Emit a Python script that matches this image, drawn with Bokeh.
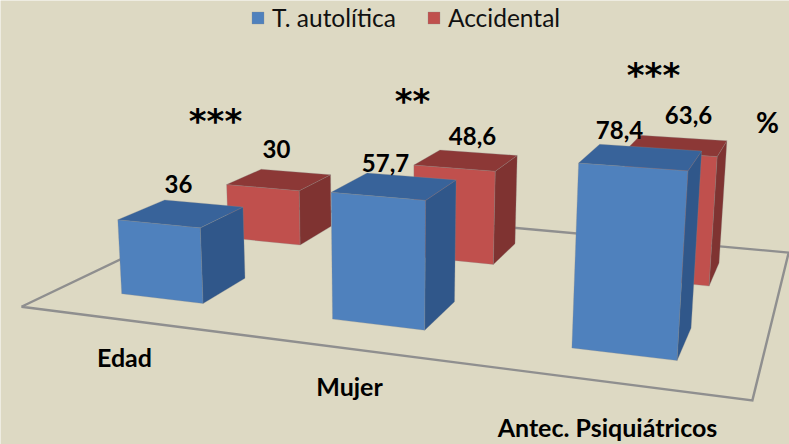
import numpy as np
from bokeh.core.properties import value
from bokeh.embed import file_html
from bokeh.models import Legend, LegendItem, Range1d
from bokeh.plotting import figure
from bokeh.resources import INLINE

categories = ["Edad", "Mujer", "Antec. Psiquiátricos"]
t_autolitica = [36, 57.7, 78.4]
accidental = [30, 48.6, 63.6]
significance = ["***", "**", "***"]
series_names = ["T. autolítica", "Accidental"]

BG = "#DDD9C3"
FONT = "Lato"
# perspective camera: world (category, value, series depth) -> page pixels
CAM = np.array([197.429, -0.159244, 148.889, 20.9283,
                6.64, -2.21307, -17.4022, 306.228,
                -0.0614813, -0.000410376, 0.170137, 1.0]).reshape(3, 4)
BAR_W, BAR_D = 0.4008, 0.3938
N_CAT, N_SER = len(categories), len(series_names)


def project(x, y, z):
    u, v, w = CAM @ np.array([x, y, z, 1.0])
    return u / w, v / w


def face(corners):
    pts = [project(*c) for c in corners]
    return [p[0] for p in pts], [p[1] for p in pts]


def bar_faces(cat, ser, val):
    x0, x1 = cat + 0.5 - BAR_W / 2, cat + 0.5 + BAR_W / 2
    z0, z1 = ser + 0.5 - BAR_D / 2, ser + 0.5 + BAR_D / 2
    front = face([(x0, 0, z0), (x1, 0, z0), (x1, val, z0), (x0, val, z0)])
    right = face([(x1, 0, z0), (x1, 0, z1), (x1, val, z1), (x1, val, z0)])
    top = face([(x0, val, z0), (x1, val, z0), (x1, val, z1), (x0, val, z1)])
    return front, right, top


p = figure(width=789, height=444, output_backend="svg", toolbar_location=None,
           x_range=Range1d(0, 789), y_range=Range1d(444, 0),
           background_fill_color=BG, border_fill_color=BG, min_border=0,
           outline_line_color=None)
p.axis.visible = False
p.grid.visible = False

# floor
fx, fy = face([(0, 0, 0), (N_CAT, 0, 0), (N_CAT, 0, N_SER), (0, 0, N_SER), (0, 0, 0)])
p.line(fx, fy, line_color="#8F8F8F", line_width=2.4, line_join="miter")

# bars, back row first
styles = [("#4F81BD", "#30578A", "#38639A"), ("#C0504D", "#7F3331", "#8C3836")]
legend_items = [None, None]
for ser, vals in reversed(list(enumerate([t_autolitica, accidental]))):
    faces = [bar_faces(c, ser, v) for c, v in enumerate(vals)]
    for k, col in enumerate(styles[ser]):
        xs = [f[k][0] for f in faces]
        ys = [f[k][1] for f in faces]
        r = p.patches(xs, ys, fill_color=col, line_color="#8A8A8A", line_alpha=0.35, line_width=0.8)
        if k == 0:
            legend_items[ser] = LegendItem(label=series_names[ser], renderers=[r])

legend = Legend(items=legend_items, orientation="horizontal", location=(250, 412),
                glyph_width=15, glyph_height=15, label_standoff=7, spacing=30,
                padding=0, margin=0, border_line_color=None, background_fill_alpha=0,
                label_text_font=FONT, label_text_font_size="24.5px", label_text_color="#111111",
                label_height=15)
p.add_layout(legend)


def label(xs, ys, texts, size, font=FONT):
    p.text(xs, ys, text=texts, text_font=value(font), text_font_size=size, text_font_style="bold",
           text_align="center", text_baseline="middle", text_color="#000000")


val_text = [f"{v:g}".replace(".", ",") for pair in zip(t_autolitica, accidental) for v in pair]
label([178, 276, 385, 472, 619, 688], [183, 148, 162, 135, 129, 114], val_text, "24px")
label([124, 349, 607], [356, 385, 426], categories, "25px")
label([767], [121], ["%"], "28px")
label([215, 412, 653], [120, 100, 74], significance, "34px", "DejaVu Sans")

open("out.html", "w").write(file_html(p, INLINE))
